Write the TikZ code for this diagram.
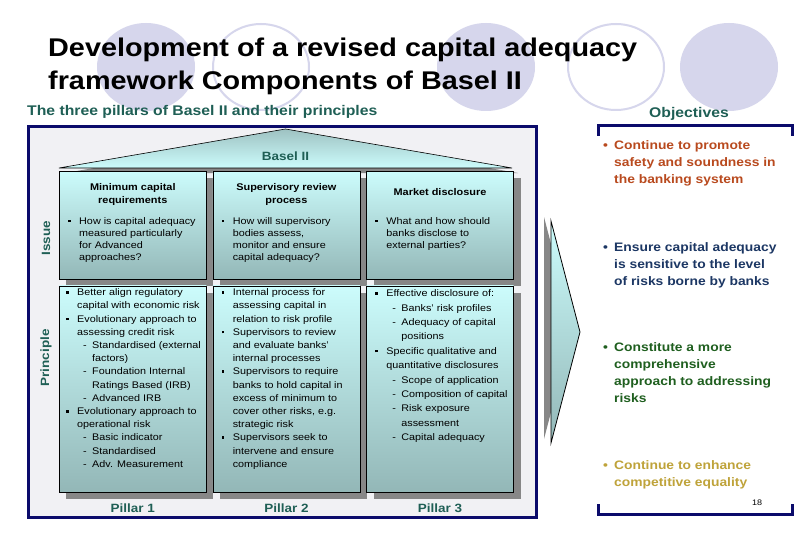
\documentclass[tikz,border=0pt]{standalone}
\usepackage{fontspec}
\setmainfont{Liberation Sans}[FakeStretch=1.125]
\usepackage{tikz}
\usetikzlibrary{positioning,shadows,calc}
\definecolor{navy}{HTML}{0B0B6B}
\definecolor{panel}{HTML}{F1F1F4}
\definecolor{boxtop}{HTML}{CCFCFC}
\definecolor{boxbot}{HTML}{93B7B7}
\definecolor{rooftop}{HTML}{9EC2C2}
\definecolor{shadegrey}{HTML}{878787}
\definecolor{tealtxt}{HTML}{1F5F55}
\definecolor{orbfill}{HTML}{D6D6EC}
\definecolor{rust}{HTML}{B94A1E}
\definecolor{deepblue}{HTML}{1C3764}
\definecolor{forest}{HTML}{1F5F1F}
\definecolor{ochre}{HTML}{BFA33A}
\newcommand{\sqb}{\makebox[11pt][l]{\rule[2pt]{2.6pt}{2.6pt}}}
\newcommand{\ind}{\hspace*{11pt}}
\newcommand{\dsh}{\hspace*{17pt}\makebox[9pt][l]{-}}
\newcommand{\dind}{\hspace*{26pt}}
\newcommand{\obul}{\makebox[11pt][l]{\textbullet}}

\begin{document}
\begin{tikzpicture}[x=1pt,y=-1pt,
  orb/.style={fill=orbfill},
  ring/.style={draw=orbfill,line width=2pt},
  pillar/.style={draw=black,line width=0.6pt,top color=boxtop,bottom color=boxbot,minimum width=147pt,inner sep=0pt,
    drop shadow={shadow xshift=7pt,shadow yshift=-7pt,fill=shadegrey,opacity=1}},
  head/.style={font=\fontsize{9.7}{13}\selectfont\bfseries,align=center,inner sep=0pt},
  body/.style={font=\fontsize{9.6}{12}\selectfont,align=left,inner sep=0pt,anchor=north west},
  sidelab/.style={font=\fontsize{12}{14}\selectfont\bfseries,text=tealtxt,rotate=90,inner sep=0pt},
  pillarlab/.style={font=\fontsize{12}{14}\selectfont\bfseries,text=tealtxt,inner sep=0pt},
  goal/.style={font=\fontsize{12.3}{17}\selectfont\bfseries,align=left,inner sep=0pt,anchor=north west},
  bracket/.style={navy,line width=3pt}]
\useasboundingbox[fill=white] (0,0) rectangle (810,540);
% background orbs
\fill[orb] (146,67) ellipse [x radius=49,y radius=44];
\draw[ring] (261,67) ellipse [x radius=48,y radius=43];
\fill[orb] (486,67) ellipse [x radius=49,y radius=44];
\draw[ring] (616,67) ellipse [x radius=48,y radius=43];
\fill[orb] (729,67) ellipse [x radius=49,y radius=44];
% headings
\node[anchor=north west,align=left,inner sep=0pt,font=\fontsize{25.6}{33}\selectfont\bfseries] (title) at (48,37.7)
  {Development of a revised capital adequacy\\framework Components of Basel II};
\node[anchor=base west,inner sep=0pt,text=tealtxt,font=\fontsize{14}{16}\selectfont\bfseries] (sub) at (27,116)
  {The three pillars of Basel II and their principles};
\node[anchor=base,inner sep=0pt,text=tealtxt,font=\fontsize{14}{16}\selectfont\bfseries] (obj) at (689,118) {Objectives};
% pillar panel
\draw[navy,line width=3pt,fill=panel] (28,127) rectangle (536,517);
\fill[shadegrey] (65,173) -- (291.5,134) -- (518,173) -- cycle;
\draw[line width=0.6pt,top color=rooftop,bottom color=boxtop] (59,168) -- (285.5,129) -- (512,168) -- cycle;
\node[pillarlab] (basel) at (285.5,156) {Basel II};
\node[pillar,minimum height=108pt,anchor=north west] (iss1) at (59,171) {};
\node[pillar,minimum height=108pt,right=6pt of iss1] (iss2) {};
\node[pillar,minimum height=108pt,right=6pt of iss2] (iss3) {};
\node[pillar,minimum height=206pt,below=6pt of iss1] (pri1) {};
\node[pillar,minimum height=206pt,below=6pt of iss2] (pri2) {};
\node[pillar,minimum height=206pt,below=6pt of iss3] (pri3) {};
\node[sidelab] (issue) at (46,238) {Issue};
\node[sidelab] (principle) at (46,358) {Principle};
% issue row
\node[head] (h1) at ([yshift=-23.5pt]iss1.north) {Minimum capital\\requirements};
\node[head] (h2) at ([yshift=-23.5pt]iss2.north) {Supervisory review\\process};
\node[head] (h3) at ([yshift=-21pt]iss3.north) {Market disclosure};
\node[body] (q1) at ([shift={(9,46)}]iss1.north west)
  {\sqb How is capital adequacy\\\ind measured particularly\\\ind for Advanced\\\ind approaches?};
\node[body] (q2) at ([shift={(9,46)}]iss2.north west)
  {\sqb How will supervisory\\\ind bodies assess,\\\ind monitor and ensure\\\ind capital adequacy?};
\node[body] (q3) at ([shift={(9,46)}]iss3.north west)
  {\sqb What and how should\\\ind banks disclose to\\\ind external parties?};
% principle row
\node[body,font=\fontsize{9.6}{13.2}\selectfont] (b1) at ([shift={(7,3)}]pri1.north west)
  {\sqb Better align regulatory\\\ind capital with economic risk\\
   \sqb Evolutionary approach to\\\ind assessing credit risk\\
   \dsh Standardised (external\\\dind factors)\\
   \dsh Foundation Internal\\\dind Ratings Based (IRB)\\
   \dsh Advanced IRB\\
   \sqb Evolutionary approach to\\\ind operational risk\\
   \dsh Basic indicator\\\dsh Standardised\\\dsh Adv. Measurement};
\node[body,font=\fontsize{9.6}{13.2}\selectfont] (b2) at ([shift={(9,3)}]pri2.north west)
  {\sqb Internal process for\\\ind assessing capital in\\\ind relation to risk profile\\
   \sqb Supervisors to review\\\ind and evaluate banks'\\\ind internal processes\\
   \sqb Supervisors to require\\\ind banks to hold capital in\\\ind excess of minimum to\\
   \ind cover other risks, e.g.\\\ind strategic risk\\
   \sqb Supervisors seek to\\\ind intervene and ensure\\\ind compliance};
\node[body,font=\fontsize{9.6}{14.4}\selectfont] (b3) at ([shift={(9,4)}]pri3.north west)
  {\sqb Effective disclosure of:\\
   \dsh Banks' risk profiles\\\dsh Adequacy of capital\\\dind positions\\
   \sqb Specific qualitative and\\\ind quantitative disclosures\\
   \dsh Scope of application\\\dsh Composition of capital\\
   \dsh Risk exposure\\\dind assessment\\\dsh Capital adequacy};
\node[pillarlab] (p1) at ([yshift=-16pt]pri1.south) {Pillar 1};
\node[pillarlab] (p2) at ([yshift=-16pt]pri2.south) {Pillar 2};
\node[pillarlab] (p3) at ([yshift=-16pt]pri3.south) {Pillar 3};
% arrow towards objectives
\fill[shadegrey] (544,217) -- (573,328) -- (544,439) -- cycle;
\draw[line width=0.8pt,top color=boxtop,bottom color=boxbot] (551,221) -- (580,332) -- (551,443) -- cycle;
% objectives
\draw[bracket] (598,136) -- (598,126) -- (792,126) -- (792,136);
\draw[bracket] (598,504) -- (598,514) -- (792,514) -- (792,504);
\node[goal,text=rust] (g1) at (603,140.2) {\obul Continue to promote\\\ind safety and soundness in\\\ind the banking system};
\node[goal,text=deepblue] (g2) at (603,242) {\obul Ensure capital adequacy\\\ind is sensitive to the level\\\ind of risks borne by banks};
\node[goal,text=forest] (g3) at (603,342) {\obul Constitute a more\\\ind comprehensive\\\ind approach to addressing\\\ind risks};
\node[goal,text=ochre] (g4) at (603,460) {\obul Continue to enhance\\\ind competitive equality};
\node[anchor=base,inner sep=0pt,font=\fontsize{8}{9}\selectfont] (page) at (757,505) {18};
\end{tikzpicture}
\end{document}
